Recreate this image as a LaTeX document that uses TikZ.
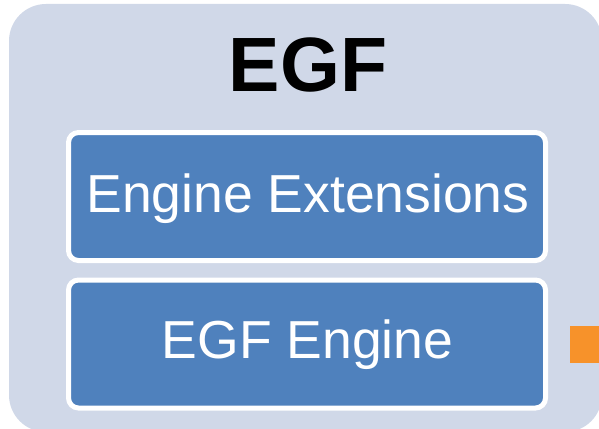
\documentclass[tikz,border=0pt]{standalone}
\usepackage{fontspec}
\setmainfont{Liberation Sans}
\definecolor{outerbg}{HTML}{D0D8E8}
\definecolor{boxblue}{HTML}{4F81BD}
\definecolor{accent}{HTML}{F7922A}
\tikzset{
  layerbox/.style={draw=white, line width=5pt, fill=boxblue, rounded corners=10pt,
    minimum width=477pt, minimum height=128pt, inner sep=0pt, outer sep=0pt},
  layertext/.style={text=white, font=\fontsize{53.5}{60}\selectfont, anchor=base, inner sep=0pt},
}
\begin{document}
\begin{tikzpicture}[x=1pt,y=-1pt]
\useasboundingbox (0,0) rectangle (599,428);
\clip (0,0) rectangle (599,428);
\fill[white] (0,0) rectangle (599,428);
\fill[outerbg, rounded corners=37pt] (9,4) rectangle (602,432);
\node[font=\bfseries\fontsize{77}{80}\selectfont, anchor=base, inner sep=0pt] (title) at (308,91) {EGF};
\node[layerbox] (ext) at (307,196.5) {};
\node[layerbox] (eng) at (307,344) {};
\node[layertext] (extlabel) at (308,212.5) {Engine Extensions};
\node[layertext] (englabel) at (307.5,358.5) {EGF Engine};
\node[fill=accent, minimum width=35pt, minimum height=37pt, inner sep=0pt, anchor=north west] (orange) at (570,326) {};
\end{tikzpicture}
\end{document}
